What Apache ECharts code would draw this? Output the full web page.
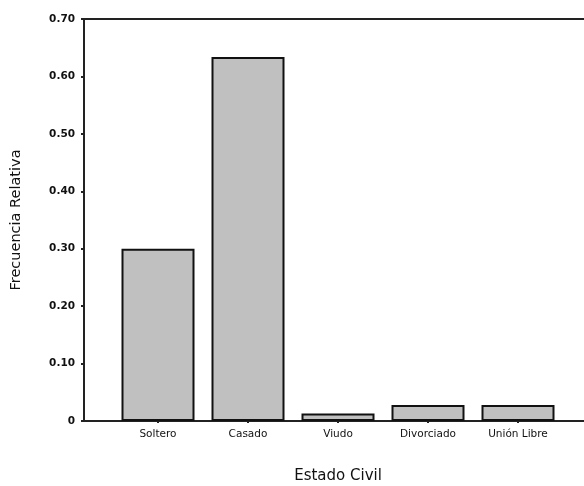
<!DOCTYPE html>
<html><head><meta charset="utf-8">
<script src="https://cdn.jsdelivr.net/npm/echarts@6/dist/echarts.min.js"></script>
<style>html,body{margin:0;padding:0;background:#fff}#c{width:584px;height:486px}</style>
</head><body><div id="c"></div>
<script>
var categories = ['Soltero', 'Casado', 'Viudo', 'Divorciado', 'Unión Libre'];
var values = [0.300, 0.634, 0.013, 0.028, 0.028];
var yTicks = [0, 0.1, 0.2, 0.3, 0.4, 0.5, 0.6, 0.7];
var yTickLabels = ['0', '0.10', '0.20', '0.30', '0.40', '0.50', '0.60', '0.70'];

var chart = echarts.init(document.getElementById('c'), null, {renderer: 'canvas'});
var lineStyle = {color: '#222', width: 2};
var font = '"DejaVu Sans", Arial, sans-serif';
chart.setOption({
  backgroundColor: '#fff',
  animation: false,
  grid: [
    {left: 84, right: -4, top: 19, bottom: 65, containLabel: false, outerBoundsMode: 'none'},
    {left: 113, right: 21, top: 19, bottom: 65, containLabel: false, outerBoundsMode: 'none'}
  ],
  xAxis: [
    {gridIndex: 0, type: 'value', position: 'bottom', min: 0, max: 1,
     axisLine: {show: true, lineStyle: lineStyle}, axisTick: {show: false},
     axisLabel: {show: false}, splitLine: {show: false}},
    {gridIndex: 0, type: 'value', position: 'top', min: 0, max: 1,
     axisLine: {show: true, lineStyle: lineStyle}, axisTick: {show: false},
     axisLabel: {show: false}, splitLine: {show: false}},
    {gridIndex: 1, type: 'category', data: categories,
     axisLine: {show: false},
     axisTick: {show: true, alignWithLabel: true, length: 2, lineStyle: {color: '#222', width: 2}},
     axisLabel: {color: '#111', fontSize: 10.5, fontFamily: font, margin: 8},
     name: 'Estado Civil', nameLocation: 'middle', nameGap: 48,
     nameTextStyle: {color: '#111', fontSize: 15, fontFamily: font}}
  ],
  yAxis: [
    {gridIndex: 0, type: 'value', min: 0, max: 0.7, interval: 0.1,
     axisLine: {show: true, lineStyle: lineStyle},
     axisTick: {show: true, length: 3, lineStyle: {color: '#222', width: 2}},
     axisLabel: {color: '#111', fontSize: 10.5, fontFamily: font, fontWeight: 'bold', margin: 9,
       formatter: function (v) {
         for (var i = 0; i < yTicks.length; i++) if (Math.abs(yTicks[i] - v) < 1e-9) return yTickLabels[i];
         return '';
       }},
     splitLine: {show: false},
     name: 'Frecuencia Relativa', nameLocation: 'middle', nameGap: 60, nameRotate: 90,
     nameTextStyle: {color: '#111', fontSize: 14.5, fontFamily: font}},
    {gridIndex: 1, type: 'value', min: 0, max: 0.7, show: false}
  ],
  series: [{
    type: 'bar', xAxisIndex: 2, yAxisIndex: 1, data: values, barWidth: 73,
    itemStyle: {color: '#c0c0c0', borderColor: '#111', borderWidth: 2}
  }]
});
</script></body></html>
